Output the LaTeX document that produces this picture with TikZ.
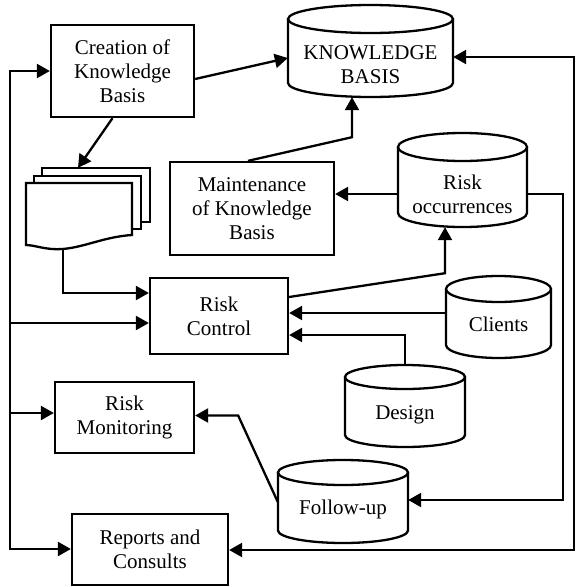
\documentclass[tikz,border=0pt]{standalone}
\usepackage{fontspec}
\setmainfont{Liberation Serif}
\usetikzlibrary{arrows.meta}

\tikzset{
  txt/.style={align=center, inner sep=0pt, font=\fontsize{21}{24}\selectfont},
  box/.style={txt, draw, line width=2.3pt},
  cyltext/.style={txt},
  shapeline/.style={line width=2.3pt, fill=white},
  conn/.style={line width=2.3pt, -{Triangle[length=13pt,width=14pt]}},
  both/.style={line width=2.3pt, {Triangle[length=13pt,width=14pt]}-{Triangle[length=13pt,width=14pt]}},
}

% database cylinder: name, left, top, right, bottom, cap radius, node options, text
\newcommand\cyl[8]{%
  \draw[shapeline] (#2,{-(#3+#6)}) -- (#2,{-(#5-#6)})
    arc[start angle=180, end angle=360, x radius={(#4-#2)/2}, y radius=#6]
    -- (#4,{-(#3+#6)});
  \draw[shapeline] ({(#2+#4)/2},{-(#3+#6)}) ellipse [x radius={(#4-#2)/2}, y radius=#6];
  \node[cyltext, minimum width={#4-#2}, minimum height={#5-#3-2*#6}, #7]
    (#1) at ({(#2+#4)/2},{-(#3+2*#6+#5)/2}) {#8};
  \coordinate (#1-top) at ({(#2+#4)/2},{-#3});
}

\begin{document}
\begin{tikzpicture}[x=1pt, y=1pt]
\useasboundingbox (0,0) rectangle (576,-587);

% process boxes
\node[box, minimum width=143pt, minimum height=92pt] (creation) at (122.5,-71) {Creation of\\Knowledge\\Basis};
\node[box, minimum width=164pt, minimum height=93pt] (maint) at (252,-208.5) {Maintenance\\of Knowledge\\Basis};
\node[box, minimum width=138pt, minimum height=76pt] (rc) at (219,-316) {Risk\\Control};
\node[box, minimum width=139pt, minimum height=71pt] (rm) at (124.5,-417.5) {Risk\\Monitoring};
\node[box, minimum width=156pt, minimum height=71pt] (rep) at (150,-549.5) {Reports and\\Consults};

% data stores
\cyl{kb}{288}{5}{453}{97}{14}{}{KNOWLEDGE\\BASIS}
\cyl{ro}{398}{133}{527}{227}{14}{}{Risk\\occurrences}
\cyl{cl}{446}{276}{551}{358}{13}{text depth=12pt}{Clients}
\cyl{de}{345}{365}{465}{447}{12}{text depth=10.6pt}{Design}
\cyl{fu}{278}{460}{408}{543}{12.5}{text depth=12.6pt}{Follow-up}

% stack of documents
\draw[shapeline] (42,-168) rectangle (150,-222);
\draw[shapeline] (34,-176) rectangle (141,-229);
\draw[shapeline] (26,-183) -- (132,-183) -- (132,-235)
  .. controls (100,-237) and (78,-251) .. (52,-249)
  .. controls (40,-248) and (33,-245) .. (26,-245) -- cycle;
\node[inner sep=0pt, minimum width=124pt, minimum height=81pt] (docs) at (88,-208.5) {};

% left distribution line
\coordinate (bb) at (10,-549);
\coordinate (b1) at (10,-323);
\coordinate (b2) at (10,-413);
\draw[both] (creation.west) -| (bb) -- (bb -| rep.west);
\draw[conn] (b1) -- (b1 -| rc.west);
\draw[conn] (b2) -- (b2 -| rm.west);

% flows
\draw[conn] ([yshift=-8pt]creation.east) -- ([yshift=7pt]kb.west);
\draw[conn] ([xshift=-10pt]creation.south) -- ([xshift=-10pt]docs.north);
\draw[conn] ([xshift=-25pt]docs.south) |- ([yshift=23pt]rc.west);
\draw[conn] ([xshift=-4pt]maint.north) -- ([xshift=-18.5pt,yshift=-40pt]kb.south) -- ([xshift=-18.5pt]kb.south);
\draw[conn] (ro.west) -- (ro.west -| maint.east);
\draw[conn] (ro.east) -- ++(36,0) |- ([yshift=14pt]fu.east);
\draw[conn] ([yshift=19pt]rc.east) -- ([xshift=-17.5pt,yshift=-46pt]ro.south) -- ([xshift=-17.5pt]ro.south);
\draw[conn] ([yshift=17pt]cl.west) -- ([yshift=17pt]cl.west -| rc.east);
\draw[conn] (de-top) |- ([yshift=-19pt]rc.east);
\draw[conn] ([yshift=12pt]fu.west) -- ([xshift=43pt,yshift=2pt]rm.east) -- ([yshift=2pt]rm.east);

% feedback to knowledge basis and reports
\coordinate (rr) at (574,-550);
\draw[both] ([yshift=8pt]kb.east) -| (rr) -- (rr -| rep.east);
\end{tikzpicture}
\end{document}
